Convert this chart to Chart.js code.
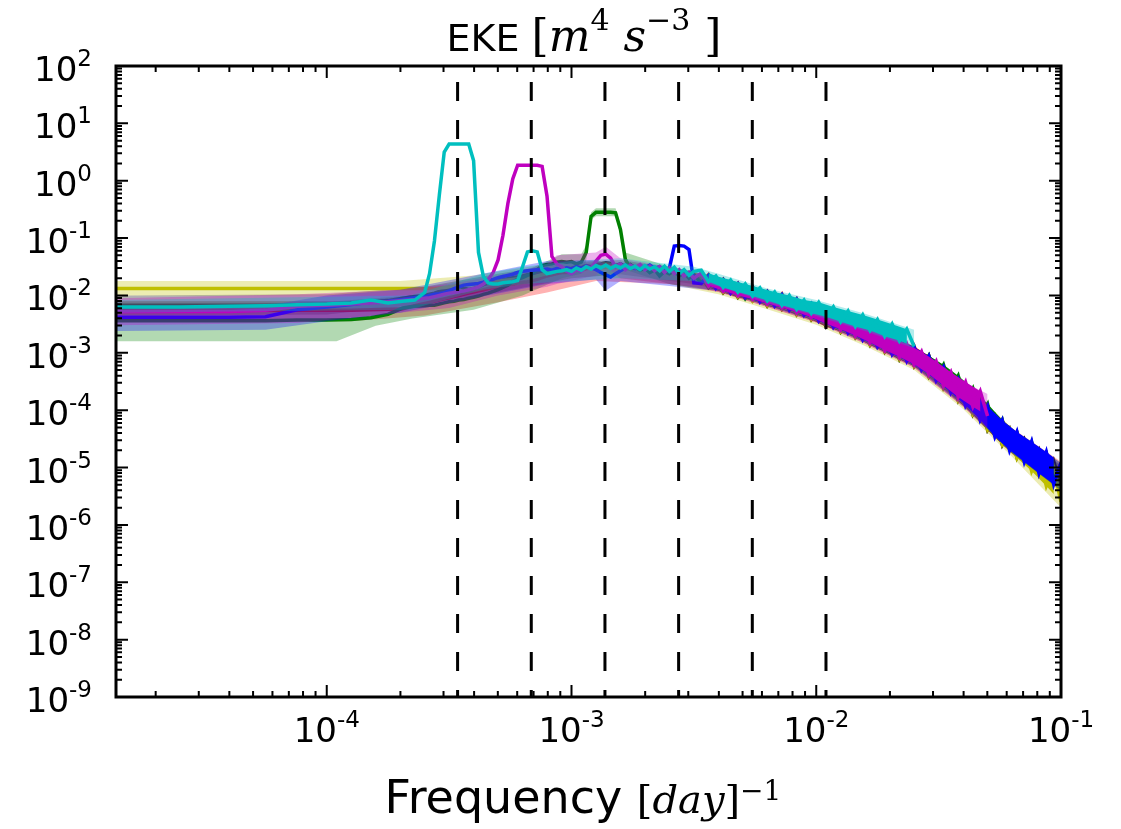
<!DOCTYPE html>
<html>
<head>
<meta charset="utf-8">
<script src="https://cdn.jsdelivr.net/npm/chart.js@4.4.0/dist/chart.umd.min.js"></script>
<style>
  html, body { margin: 0; background: #fff; }
  canvas { display: block; }
</style>
</head>
<body>
<canvas id="spectra" width="1121" height="829"></canvas>
<script>
// frequency grid, log10 of [day^-1]
const logFreq = [
  -4.86,-4.60,-4.40,-4.25,-4.12,-4.00,-3.90,-3.82,-3.75,-3.69,-3.64,
  -3.60,-3.58,-3.56,-3.54,-3.52,-3.50,-3.48,-3.46,-3.44,-3.42,-3.40,-3.38,-3.36,-3.34,-3.32,-3.30,-3.28,-3.26,
  -3.24,-3.22,-3.20,-3.18,-3.16,-3.14,-3.12,-3.10,-3.08,-3.06,-3.04,-3.02,-3.00,-2.98,-2.96,-2.94,-2.92,-2.90,
  -2.88,-2.86,-2.84,-2.82,-2.80,-2.78,-2.76,-2.74,-2.72,-2.70,-2.68,-2.66,-2.64,-2.62,-2.60,-2.58,-2.56,-2.54,
  -2.52,-2.50,
  -2.47,-2.44,-2.41,-2.38,-2.35,-2.32,-2.29,-2.26,-2.23,-2.20,-2.17,-2.14,-2.11,-2.08,-2.05,-2.02,-1.99,-1.96,
  -1.93,-1.90,-1.87,-1.84,-1.81,-1.78,-1.75,-1.72,-1.69,-1.66,-1.63,-1.60,-1.57,-1.54,-1.51,-1.48,-1.45,-1.42,
  -1.39,-1.36,-1.33,-1.30,-1.27,-1.24,-1.21,-1.18,-1.15,-1.12,-1.09,-1.06,-1.03,-1.00
];

// EKE spectra, log10 of [m^4 s^-3], one value per grid frequency
const ekeBlack = [
  -2.17,-2.17,-2.17,-2.17,-2.16,-2.15,-2.13,-2.11,-2.09,-2.05,-2.02,
  -2.00,-1.98,-1.96,-1.93,-1.90,-1.87,-1.85,-1.84,-1.87,-1.90,-1.88,-1.85,-1.81,-1.79,-1.77,-1.75,-1.73,-1.71,
  -1.69,-1.68,-1.66,-1.64,-1.63,-1.60,-1.59,-1.58,-1.57,-1.56,-1.55,-1.55,-1.53,-1.50,-1.52,-1.48,-1.50,-1.46,
  -1.45,-1.43,-1.44,-1.48,-1.45,-1.50,-1.46,-1.52,-1.48,-1.54,-1.50,-1.56,-1.52,-1.58,-1.54,-1.60,-1.57,-1.64,
  -1.60,-1.66,
  -1.66,-1.86,-1.74,-1.95,-1.82,-2.03,-1.88,-2.09,-1.95,-2.18,-2.01,-2.24,-2.08,-2.33,-2.16,-2.42,-2.26,-2.54,
  -2.35,-2.63,-2.44,-2.73,-2.55,-2.86,-2.66,-2.98,-2.77,-3.11,-2.89,-3.23,-3.02,-3.41,-3.20,-3.61,-3.40,-3.83,
  -3.61,-4.07,-3.85,-4.34,-4.12,-4.60,-4.34,-4.82,-4.53,-5.01,-4.71,-5.20,-4.89,-5.30
];
const ekeRed = [
  -2.26,-2.26,-2.26,-2.26,-2.26,-2.26,-2.26,-2.25,-2.24,-2.23,-2.18,
  -2.14,-2.12,-2.10,-2.08,-2.06,-2.04,-2.02,-2.00,-1.98,-1.96,-1.94,-1.92,-1.90,-1.88,-1.86,-1.85,-1.83,-1.81,
  -1.80,-1.78,-1.77,-1.76,-1.74,-1.72,-1.69,-1.66,-1.64,-1.62,-1.60,-1.60,-1.57,-1.55,-1.56,-1.53,-1.52,-1.50,
  -1.51,-1.49,-1.50,-1.47,-1.51,-1.48,-1.53,-1.50,-1.54,-1.51,-1.57,-1.53,-1.60,-1.55,-1.62,-1.57,-1.64,-1.60,
  -1.68,-1.63,
  -1.76,-1.64,-1.85,-1.72,-1.93,-1.79,-2.00,-1.85,-2.08,-1.93,-2.15,-1.98,-2.22,-2.06,-2.31,-2.15,-2.41,-2.24,
  -2.52,-2.34,-2.62,-2.43,-2.73,-2.55,-2.86,-2.66,-2.98,-2.78,-3.11,-2.89,-3.25,-3.05,-3.44,-3.24,-3.66,-3.45,
  -3.88,-3.68,-4.13,-3.93,-4.41,-4.19,-4.65,-4.39,-4.84,-4.57,-5.03,-4.76,-5.21,-4.92
];
const ekeYellow = [
  -1.88,-1.88,-1.88,-1.88,-1.88,-1.88,-1.88,-1.88,-1.88,-1.88,-1.88,
  -1.88,-1.88,-1.88,-1.87,-1.86,-1.85,-1.84,-1.83,-1.82,-1.81,-1.80,-1.79,-1.78,-1.77,-1.76,-1.75,-1.74,-1.73,
  -1.72,-1.71,-1.70,-1.69,-1.68,-1.66,-1.64,-1.62,-1.60,-1.58,-1.57,-1.56,-1.55,-1.53,-1.55,-1.51,-1.53,-1.49,
  -1.51,-1.48,-1.52,-1.49,-1.54,-1.50,-1.55,-1.51,-1.57,-1.53,-1.59,-1.55,-1.62,-1.57,-1.64,-1.59,-1.66,-1.62,
  -1.70,-1.65,
  -1.65,-1.85,-1.73,-1.94,-1.80,-2.02,-1.87,-2.09,-1.93,-2.17,-2.00,-2.23,-2.07,-2.32,-2.14,-2.41,-2.24,-2.52,
  -2.33,-2.62,-2.43,-2.72,-2.54,-2.85,-2.65,-2.97,-2.77,-3.10,-2.88,-3.22,-3.01,-3.40,-3.19,-3.60,-3.39,-3.82,
  -3.60,-4.06,-3.84,-4.33,-4.11,-4.59,-4.35,-4.83,-4.56,-5.06,-4.78,-5.32,-5.02,-5.60
];
const ekeGreen = [
  -2.44,-2.44,-2.44,-2.44,-2.43,-2.43,-2.42,-2.39,-2.33,-2.22,-2.19,
  -2.18,-2.17,-2.17,-2.15,-2.13,-2.11,-2.10,-2.08,-2.07,-2.05,-2.03,-2.01,-1.98,-1.96,-1.93,-1.90,-1.86,-1.82,
  -1.76,-1.72,-1.69,-1.65,-1.62,-1.55,-1.48,-1.46,-1.45,-1.42,-1.41,-1.42,-1.41,-1.45,-1.42,-1.25,-0.62,-0.55,
  -0.55,-0.55,-0.55,-0.56,-0.85,-1.37,-1.52,-1.50,-1.56,-1.52,-1.60,-1.55,-1.66,-1.58,-1.62,-1.57,-1.66,-1.60,
  -1.70,-1.64,
  -1.78,-1.66,-1.86,-1.73,-1.95,-1.81,-2.05,-1.87,-2.10,-1.94,-2.17,-2.00,-2.25,-2.08,-2.33,-2.16,-2.43,-2.26,
  -2.54,-2.35,-2.64,-2.45,-2.76,-2.56,-2.88,-2.68,-3.01,-2.79,-3.13,-2.91,-3.27,-3.05,-3.43,-3.21,-3.62,-3.40,
  -3.84,-3.62,-4.09,-3.89,-4.40,-4.17,-4.65,-4.39,-4.85,-4.56,-5.04,-4.75,-5.22,-4.97
];
const ekeBlue = [
  -2.38,-2.38,-2.38,-2.37,-2.25,-2.20,-2.16,-2.12,-2.10,-2.07,-2.04,
  -2.02,-2.00,-1.98,-1.97,-1.95,-1.92,-1.88,-1.85,-1.82,-1.81,-1.80,-1.79,-1.77,-1.74,-1.72,-1.69,-1.67,-1.65,
  -1.63,-1.60,-1.58,-1.57,-1.56,-1.55,-1.55,-1.54,-1.56,-1.53,-1.55,-1.52,-1.54,-1.50,-1.53,-1.49,-1.52,-1.55,
  -1.60,-1.64,-1.68,-1.62,-1.57,-1.52,-1.49,-1.53,-1.48,-1.52,-1.47,-1.53,-1.50,-1.56,-1.52,-1.14,-1.13,-1.14,
  -1.20,-1.78,
  -1.79,-1.65,-1.88,-1.73,-1.96,-1.80,-2.03,-1.86,-2.11,-1.94,-2.18,-1.99,-2.25,-2.07,-2.34,-2.15,-2.44,-2.25,
  -2.55,-2.35,-2.65,-2.44,-2.77,-2.56,-2.89,-2.67,-3.02,-2.79,-3.14,-2.90,-3.29,-3.06,-3.48,-3.25,-3.69,-3.46,
  -3.92,-3.68,-4.17,-3.93,-4.46,-4.18,-4.70,-4.38,-4.90,-4.55,-5.10,-4.73,-5.29,-4.92
];
// 10-day sampling: stops at its Nyquist frequency
const ekeMagenta = [
  -2.28,-2.28,-2.28,-2.26,-2.19,-2.17,-2.15,-2.13,-2.11,-2.09,-2.07,
  -2.05,-2.04,-2.02,-2.00,-1.98,-1.96,-1.95,-1.93,-1.92,-1.90,-1.88,-1.85,-1.80,-1.72,-1.60,-1.38,-0.95,-0.40,
  0.03,0.27,0.27,0.27,0.27,0.27,0.25,-0.27,-1.32,-1.45,-1.50,-1.58,-1.62,-1.55,-1.58,-1.50,-1.52,-1.40,
  -1.30,-1.28,-1.35,-1.50,-1.45,-1.55,-1.47,-1.52,-1.46,-1.55,-1.49,-1.57,-1.50,-1.60,-1.52,-1.62,-1.55,-1.66,
  -1.60,-1.70,
  -1.61,-1.83,-1.70,-1.92,-1.77,-2.00,-1.84,-2.06,-1.90,-2.14,-1.97,-2.21,-2.04,-2.29,-2.11,-2.38,-2.21,-2.49,
  -2.30,-2.59,-2.40,-2.70,-2.50,-2.82,-2.62,-2.95,-2.73,-3.07,-2.85,-3.20,-2.98,-3.37,-3.15,-3.57,-3.34,-3.77,
  -3.51,-3.94,-3.67,-4.10,null,null,null,null,null,null,null,null,null,null
];
// 20-day sampling
const ekeCyan = [
  -2.20,-2.20,-2.19,-2.18,-2.16,-2.15,-2.13,-2.08,-2.13,-2.10,-2.08,
  -1.95,-1.62,-1.05,-0.25,0.50,0.64,0.64,0.64,0.64,0.64,0.35,-1.25,-1.67,-1.78,-1.80,-1.80,-1.78,-1.77,
  -1.76,-1.74,-1.50,-1.24,-1.22,-1.24,-1.55,-1.62,-1.60,-1.58,-1.57,-1.55,-1.58,-1.52,-1.56,-1.50,-1.54,-1.48,
  -1.52,-1.47,-1.53,-1.48,-1.52,-1.47,-1.53,-1.49,-1.55,-1.48,-1.54,-1.50,-1.57,-1.49,-1.58,-1.51,-1.62,-1.55,
  -1.65,-1.58,
  -1.56,-1.76,-1.66,-1.86,-1.73,-1.94,-1.80,-2.01,-1.87,-2.09,-1.94,-2.17,-2.00,-2.24,-2.08,-2.31,-2.12,-2.37,
  -2.20,-2.46,-2.27,-2.54,-2.34,-2.61,-2.42,-2.71,-2.50,-2.79,-2.59,-2.89,null,null,null,null,null,null,
  null,null,null,null,null,null,null,null,null,null,null,null,null,null
];

// spread of the ensemble: [log10 freq, log10 low, log10 high]
const bandBlack = [[-4.86,-2.35,-2.00],[-4.00,-2.33,-1.98],[-3.60,-2.15,-1.85],[-3.30,-1.95,-1.62],[-3.00,-1.70,-1.42],[-2.80,-1.63,-1.38],[-2.50,-1.80,-1.58],[-2.40,-1.90,-1.74],[-2.20,-2.16,-1.98],[-2.00,-2.43,-2.23],[-1.80,-2.80,-2.56],[-1.60,-3.22,-2.94],[-1.40,-3.90,-3.58],[-1.20,-4.73,-4.37],[-1.00,-5.38,-4.96]];
const bandRed = [[-4.86,-2.45,-2.10],[-3.90,-2.45,-2.10],[-3.60,-2.35,-2.00],[-3.30,-2.12,-1.78],[-3.10,-1.95,-1.55],[-2.90,-1.75,-1.42],[-2.60,-1.80,-1.52],[-2.40,-1.94,-1.68],[-2.20,-2.20,-1.92],[-2.00,-2.47,-2.17],[-1.80,-2.84,-2.50],[-1.60,-3.26,-2.88],[-1.40,-3.94,-3.52],[-1.20,-4.77,-4.31],[-1.00,-5.42,-4.90]];
const bandYellow = [[-4.86,-2.00,-1.75],[-3.70,-2.00,-1.75],[-3.40,-1.95,-1.65],[-3.10,-1.75,-1.45],[-2.90,-1.65,-1.40],[-2.60,-1.80,-1.52],[-2.40,-1.98,-1.72],[-2.20,-2.24,-1.96],[-2.00,-2.51,-2.21],[-1.80,-2.88,-2.54],[-1.60,-3.30,-2.92],[-1.40,-3.98,-3.56],[-1.20,-4.81,-4.35],[-1.00,-5.70,-5.05]];
const bandGreen = [[-4.86,-2.80,-2.10],[-3.96,-2.80,-2.10],[-3.80,-2.53,-2.05],[-3.65,-2.40,-2.00],[-3.40,-2.25,-1.85],[-3.20,-2.00,-1.60],[-3.04,-1.70,-1.28],[-2.96,-1.62,-1.28],[-2.94,-1.40,-1.12],[-2.92,-0.68,-0.55],[-2.90,-0.62,-0.48],[-2.82,-0.62,-0.48],[-2.80,-0.95,-0.75],[-2.78,-1.55,-1.25],[-2.60,-1.80,-1.50],[-2.40,-1.92,-1.70],[-2.20,-2.18,-1.94],[-2.00,-2.45,-2.19],[-1.80,-2.82,-2.52],[-1.60,-3.24,-2.90],[-1.40,-3.92,-3.54],[-1.20,-4.75,-4.33],[-1.00,-5.40,-4.92]];
const bandBlue = [[-4.86,-2.62,-2.20],[-4.25,-2.60,-2.18],[-4.00,-2.45,-2.00],[-3.70,-2.30,-1.90],[-3.40,-2.05,-1.65],[-3.10,-1.80,-1.40],[-2.90,-1.72,-1.38],[-2.86,-1.92,-1.45],[-2.80,-1.75,-1.42],[-2.50,-1.88,-1.62],[-2.40,-1.92,-1.70],[-2.20,-2.18,-1.94],[-2.00,-2.45,-2.19],[-1.80,-2.82,-2.52],[-1.60,-3.24,-2.90],[-1.40,-3.92,-3.54],[-1.20,-4.75,-4.33],[-1.00,-5.40,-4.92]];
const bandMagenta = [[-4.86,-2.52,-2.05],[-4.12,-2.48,-1.98],[-3.70,-2.30,-1.90],[-3.50,-2.22,-1.80],[-3.30,-2.00,-1.65],[-3.10,-1.85,-1.45],[-3.06,-1.80,-1.30],[-2.90,-1.65,-1.25],[-2.86,-1.50,-1.15],[-2.80,-1.70,-1.35],[-2.50,-1.85,-1.58],[-2.40,-1.94,-1.70],[-2.20,-2.20,-1.94],[-2.00,-2.47,-2.19],[-1.80,-2.84,-2.52],[-1.60,-3.26,-2.90],[-1.40,-3.94,-3.50],[-1.30,-4.32,-3.72]];
const bandCyan = [[-4.86,-2.30,-2.08],[-3.66,-2.25,-2.00],[-3.58,-2.15,-1.90],[-3.36,-1.90,-1.62],[-3.20,-1.80,-1.50],[-3.00,-1.75,-1.40],[-2.80,-1.70,-1.35],[-2.50,-1.75,-1.50],[-2.40,-1.84,-1.62],[-2.20,-2.12,-1.88],[-2.00,-2.36,-2.08],[-1.80,-2.62,-2.32],[-1.60,-2.92,-2.60]];

// forcing periods in days (8, 4, 2, 1 yr, 6 and 3 months)
const periodDays = [2920, 1460, 730, 365, 182.5, 91.25];

const xTickExp = [-4, -3, -2, -1];
const yTickExp = [2, 1, 0, -1, -2, -3, -4, -5, -6, -7, -8, -9];

const xMin = 1.377e-5, xMax = 0.1, yMin = 1e-9, yMax = 100;

// bottom to top
const layers = [
  [ekeBlack, bandBlack, '0,0,0'],
  [ekeRed, bandRed, '255,0,0'],
  [ekeYellow, bandYellow, '191,191,0'],
  [ekeGreen, bandGreen, '0,128,0'],
  [ekeBlue, bandBlue, '0,0,255'],
  [ekeMagenta, bandMagenta, '191,0,191'],
  [ekeCyan, bandCyan, '0,191,191']
];

// the dense high-frequency part jitters point to point
const firstDense = logFreq.findIndex(f => f > -2.49);

function linePoints(vals) {
  const pts = [];
  vals.forEach((v, i) => { if (v !== null) pts.push({ x: 10 ** logFreq[i], y: 10 ** v }); });
  return pts;
}
function jitterPoints(vals, parity) {
  const pts = [];
  for (let i = firstDense; i < vals.length; i++) {
    if ((i - firstDense) % 2 === parity && vals[i] !== null) {
      pts.push({ x: 10 ** logFreq[i], y: 10 ** vals[i] });
    }
  }
  return pts;
}
function bandPoints(band, k) {
  return band.map(b => ({ x: 10 ** b[0], y: 10 ** b[k] }));
}

const datasets = [];
layers.forEach(([vals, band, rgb], L) => {
  const base = (layers.length - 1 - L) * 5;
  const hidden = { borderColor: 'transparent', borderWidth: 0 };
  datasets.push({ ...hidden, data: bandPoints(band, 1), fill: false, order: base + 4 });
  datasets.push({ ...hidden, data: bandPoints(band, 2), fill: '-1',
                  backgroundColor: `rgba(${rgb},0.3)`, order: base + 3 });
  datasets.push({ ...hidden, data: jitterPoints(vals, 0), fill: false, order: base + 2 });
  datasets.push({ ...hidden, data: jitterPoints(vals, 1), fill: '-1',
                  backgroundColor: `rgb(${rgb})`, order: base + 1 });
  datasets.push({ data: linePoints(vals), borderColor: `rgb(${rgb})`, borderWidth: 3.5,
                  fill: false, order: base });
});
periodDays.forEach(p => {
  datasets.push({ data: [{ x: 1 / p, y: yMax }, { x: 1 / p, y: yMin }], borderColor: '#000',
                  borderWidth: 3, borderDash: [19, 19], borderDashOffset: 22, fill: false, order: -1 });
});

const SANS = '"DejaVu Sans"';
const SERIF = '"DejaVu Serif"';

// text made of pieces with their own font and raise
function drawRuns(ctx, runs, x, baseline, align) {
  let total = 0;
  for (const r of runs) { ctx.font = r.font; r.w = ctx.measureText(r.text).width; total += r.w; }
  let cx = align === 'right' ? x - total : x - total / 2;
  ctx.textAlign = 'left';
  ctx.textBaseline = 'alphabetic';
  for (const r of runs) {
    ctx.font = r.font;
    ctx.fillText(r.text, cx, baseline - (r.rise || 0));
    cx += r.w;
  }
}
const pow10 = e => [
  { text: '10', font: `34px ${SANS}` },
  { text: String(e), font: `23px ${SANS}`, rise: 15 }
];

const axesFrame = {
  id: 'axesFrame',
  afterDraw(chart) {
    const { ctx, chartArea: a, scales: { x, y } } = chart;
    ctx.save();
    ctx.strokeStyle = '#000';
    ctx.fillStyle = '#000';
    ctx.lineWidth = 2;
    ctx.beginPath();
    for (let e = -5; e <= -1; e++) {
      for (let k = 1; k <= 9; k++) {
        const v = k * 10 ** e;
        if (v < xMin || v > xMax * 1.001) continue;
        const px = x.getPixelForValue(v);
        const len = k === 1 ? 12 : 6;
        ctx.moveTo(px, a.bottom); ctx.lineTo(px, a.bottom - len);
        ctx.moveTo(px, a.top); ctx.lineTo(px, a.top + len);
      }
    }
    for (let e = -9; e <= 2; e++) {
      for (let k = 1; k <= 9; k++) {
        const v = k * 10 ** e;
        if (v > yMax * 1.001) continue;
        const py = y.getPixelForValue(v);
        const len = k === 1 ? 12 : 6;
        ctx.moveTo(a.left, py); ctx.lineTo(a.left + len, py);
        ctx.moveTo(a.right, py); ctx.lineTo(a.right - len, py);
      }
    }
    ctx.stroke();
    ctx.lineWidth = 3;
    ctx.strokeRect(a.left, a.top, a.right - a.left, a.bottom - a.top);

    yTickExp.forEach(e => drawRuns(ctx, pow10(e), 92, y.getPixelForValue(10 ** e) + 15, 'right'));
    xTickExp.forEach(e => drawRuns(ctx, pow10(e), x.getPixelForValue(10 ** e), a.bottom + 45, 'center'));

    drawRuns(ctx, [
      { text: 'EKE ', font: `38px ${SANS}` },
      { text: '[', font: `44px ${SERIF}` },
      { text: 'm', font: `italic 44px ${SERIF}` },
      { text: '4', font: `30px ${SERIF}`, rise: 21 },
      { text: ' s', font: `italic 44px ${SERIF}` },
      { text: '\u22123', font: `30px ${SERIF}`, rise: 21 },
      { text: ' ]', font: `44px ${SERIF}` }
    ], 584, 51, 'center');
    drawRuns(ctx, [
      { text: 'Frequency ', font: `46px ${SANS}` },
      { text: '[', font: `40px ${SERIF}` },
      { text: 'day', font: `italic 40px ${SERIF}` },
      { text: ']', font: `40px ${SERIF}` },
      { text: '\u22121', font: `28px ${SERIF}`, rise: 13 }
    ], 583, 813, 'center');
    ctx.restore();
  }
};

new Chart(document.getElementById('spectra'), {
  type: 'line',
  data: { datasets },
  options: {
    responsive: false,
    animation: false,
    devicePixelRatio: 1,
    events: [],
    layout: { padding: { left: 116, right: 60, top: 66, bottom: 132 } },
    elements: { point: { radius: 0 }, line: { tension: 0 } },
    scales: {
      x: { type: 'logarithmic', min: xMin, max: xMax, display: false },
      y: { type: 'logarithmic', min: yMin, max: yMax, display: false }
    },
    plugins: { legend: { display: false }, tooltip: { enabled: false } }
  },
  plugins: [axesFrame]
});
</script>
</body>
</html>
